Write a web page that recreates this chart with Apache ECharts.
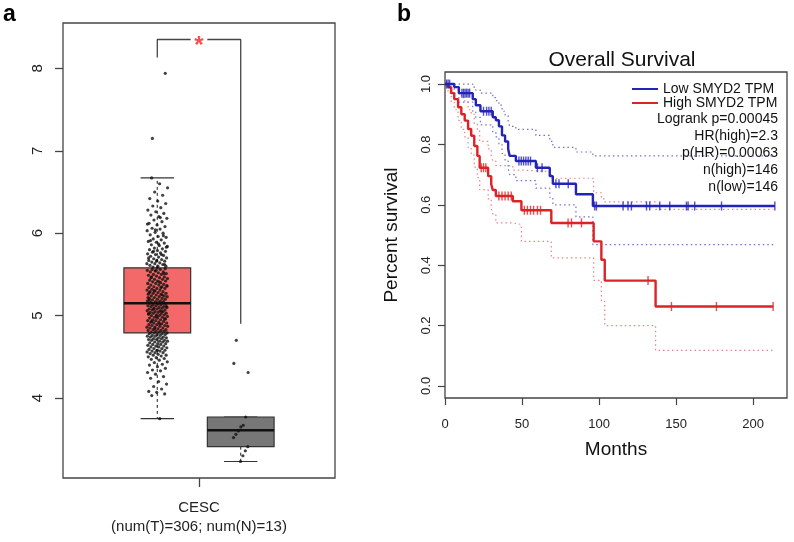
<!DOCTYPE html>
<html><head><meta charset="utf-8">
<script src="https://cdn.jsdelivr.net/npm/echarts@6/dist/echarts.min.js"></script>
<style>html,body{margin:0;padding:0;background:#fff}#c{width:794px;height:542px}</style>
</head><body><div id="c"></div>
<script>
// ---------- Panel a data ----------
const tumorValues = [
3.75,4.03,4.05,4.07,4.08,4.11,4.14,4.17,4.20,4.24,4.26,4.29,
4.31,4.33,4.34,4.36,4.38,4.40,4.41,4.43,4.44,4.46,4.47,4.48,4.49,4.50,
4.51,4.52,4.52,4.53,4.54,4.55,4.55,4.56,4.57,4.57,
4.58,4.58,4.59,4.60,4.60,4.61,4.62,4.62,4.63,4.63,
4.64,4.65,4.65,4.66,4.66,4.67,4.68,4.68,4.69,4.69,
4.70,4.70,4.71,4.71,4.72,4.72,4.73,4.73,4.74,4.74,
4.75,4.75,4.76,4.76,4.77,4.77,4.78,4.78,4.79,4.79,
4.80,4.80,4.81,4.81,4.82,4.82,4.83,4.83,4.84,4.85,
4.85,4.86,4.86,4.87,4.88,4.88,4.89,4.89,4.90,4.91,
4.91,4.92,4.92,4.93,4.94,4.94,4.95,4.95,4.96,4.97,
4.97,4.98,4.98,4.99,5.00,5.00,5.01,5.01,5.02,5.02,
5.03,5.03,5.04,5.04,5.05,5.05,5.06,5.06,5.07,5.07,
5.08,5.08,5.09,5.09,5.10,5.10,5.11,5.11,5.12,5.12,
5.13,5.13,5.14,5.14,5.15,5.15,4.84,4.87,4.90,4.93,
4.96,4.99,5.02,5.05,5.08,5.11,
5.16,5.16,5.17,5.17,5.18,5.18,5.19,5.20,5.20,5.21,
5.21,5.22,5.23,5.23,5.24,5.24,5.25,5.26,5.26,5.27,
5.27,5.28,5.29,5.29,5.30,5.31,5.31,5.32,5.33,5.33,
5.34,5.35,5.35,5.36,5.37,5.37,5.38,5.39,5.39,5.40,
5.41,5.42,5.42,5.43,5.44,5.44,5.45,5.46,5.47,5.47,
5.48,5.49,5.50,5.50,5.51,5.52,5.53,5.53,5.54,5.55,
5.56,5.56,5.57,5.58,5.19,5.25,5.30,5.36,5.41,5.46,
5.51,5.55,5.22,5.34,
5.59,5.60,5.60,5.61,5.62,5.63,5.63,5.64,5.65,5.66,
5.67,5.67,5.68,5.69,5.70,5.71,5.72,5.73,5.74,5.75,
5.76,5.77,5.78,5.79,5.80,5.81,5.82,5.84,5.85,5.86,
5.88,5.89,5.90,5.92,5.93,5.95,5.96,5.98,6.00,6.01,
6.03,6.05,6.06,6.08,6.10,6.12,6.14,6.16,6.18,6.20,
6.22,6.24,6.26,6.28,6.31,6.33,6.36,6.39,6.42,6.46,
6.50,6.55,6.60,6.67,5.62,5.66,5.70,5.74,5.78,5.83,
5.87,5.91,5.97,6.04,6.11,6.19,
7.15,7.94,4.58,5.28
];
const normalValues = [4.70,4.42,4.31,3.77,3.67,3.65,3.60,3.56,3.52,3.41,3.36,3.30,3.23];
// [lower whisker, Q1, median, Q3, upper whisker]
const tumorBox = [3.75, 4.79, 5.15, 5.58, 6.67];
const normalBox = [3.23, 3.41, 3.61, 3.77, 3.77];
const boxGroupPos = [-0.5, 0.5];
const groupLabel = 'CESC\n(num(T)=306; num(N)=13)';
const boxTicks = [4, 5, 6, 7, 8];
const bracketTop = 8.35, bracketLeftEnd = 8.13, bracketRightEnd = 4.90;

// ---------- Panel b data ----------
const lowTimes  = [0, 6, 9, 18, 20, 23, 31, 33, 35, 37, 39, 41, 42, 46, 59, 68, 70, 85, 96, 214.1];
const lowSurv   = [1, .99, .97, .95, .93, .91, .89, .88, .86, .83, .81, .785, .762, .745, .723, .695, .670, .635, .596, .596];
const lowUpper  = [1, 1, 1, .99, .98, .97, .955, .945, .93, .91, .895, .875, .86, .85, .83, .81, .79, .775, .762, .762];
const lowLower  = [1, .97, .94, .91, .89, .865, .84, .825, .80, .77, .745, .72, .70, .68, .655, .625, .60, .56, .468, .468];
const lowCensor = [1, 2, 3, 11, 12, 13, 14, 15, 16, 25, 27, 28.5, 30, 48, 49.5, 51, 52.5, 54, 55.5, 60, 63, 72, 74, 80,
                   97.2, 98.3, 115.6, 118.8, 121, 130.8, 132.9, 139.4, 145.9, 156.7, 157.8, 162.1, 179.5, 214.1];

const highTimes  = [0, 2, 4, 6, 8.5, 10.6, 12.8, 15, 17, 19, 21, 22.5, 28, 30, 31, 33, 44, 49.6, 69, 96.5, 101.5, 103.7, 136.7, 213];
const highSurv   = [1, .99, .97, .95, .923, .90, .879, .851, .829, .795, .762, .723, .695, .668, .649, .629, .612, .582, .540, .479, .418, .349, .263, .263];
const highUpper  = [1, 1, 1, .99, .97, .955, .94, .915, .90, .87, .845, .81, .785, .76, .745, .73, .715, .71, .688, .64, .62, .61, .585, .585];
const highLower  = [1, .97, .94, .915, .88, .85, .825, .79, .765, .725, .69, .65, .62, .59, .57, .54, .535, .479, .424, .35, .28, .20, .118, .118];
const highCensor = [23.5, 25, 26.5, 35, 37, 39, 41, 43, 51.5, 53.5, 55.5, 57.5, 60, 62, 79.9, 82.1, 88.6, 131.8, 147, 176.2, 213];

const survTicksX = [0, 50, 100, 150, 200];
const survTicksY = [0, 0.2, 0.4, 0.6, 0.8, 1.0];
const legendNames = ['Low SMYD2 TPM', 'High SMYD2 TPM'];
const statsLines = ['Logrank p=0.00045', 'HR(high)=2.3', 'p(HR)=0.00063', 'n(high)=146', 'n(low)=146'];

// ---------- helpers ----------
const FONT = 'Liberation Sans, Arial, sans-serif';
const zip = (xs, ys) => xs.map((x, i) => [x, ys[i]]);
const stepAt = (times, surv, t) => { let v = surv[0]; for (let i = 0; i < times.length; i++) { if (times[i] <= t) v = surv[i]; } return v; };
const jitter = (i, w) => ((((i + 1) * 0.6180339887) % 1) - 0.5) * w;

const chart = echarts.init(document.getElementById('c'), null, { renderer: 'canvas' });

const BLUE = '#2323b8', RED = '#dc2326';
const BLUE_CI = '#7070d0', RED_CI = '#e88585';

const tumorPts = tumorValues.map((v, i) => [boxGroupPos[0] + jitter(i, 0.25), v]);
const normalPts = normalValues.map((v, i) => [boxGroupPos[1] + jitter(i * 3 + 1, 0.2), v]);

const option = {
  animation: false,
  textStyle: { fontFamily: FONT },
  title: [
    { text: 'Overall Survival', left: 617, top: 45, textAlign: 'center',
      textStyle: { fontFamily: FONT, fontSize: 21, fontWeight: 'normal', color: '#111' } }
  ],
  legend: {
    data: legendNames.map(n => ({ name: n, icon: 'rect' })),
    orient: 'vertical', left: 632, top: 82, itemWidth: 26, itemHeight: 2, itemGap: 0,
    textStyle: { fontFamily: FONT, fontSize: 14, color: '#111', lineHeight: 14, padding: [0, 0, 0, 0] },
    padding: 0, selectedMode: false
  },
  graphic: [
    { type: 'text', left: 3, top: 3, style: { text: 'a', font: 'bold 23px ' + FONT, fill: '#000' } },
    { type: 'text', left: 397, top: 3, style: { text: 'b', font: 'bold 23px ' + FONT, fill: '#000' } },
    { type: 'text', x: 778, y: 111, style: { text: statsLines.join('\n'), font: '14px ' + FONT, fill: '#111',
      align: 'right', verticalAlign: 'top', lineHeight: 17 } }
  ],
  grid: [
    { left: 63, top: 23, width: 272, height: 455, show: true, borderColor: '#444', borderWidth: 1.3, backgroundColor: 'transparent' },
    { left: 445, top: 72, width: 342, height: 326, show: true, borderColor: '#444', borderWidth: 1.3, backgroundColor: 'transparent' }
  ],
  xAxis: [
    { gridIndex: 0, type: 'value', min: -1.63, max: 1.63, splitLine: { show: false },
      axisLine: { show: false, onZero: false },
      axisTick: { show: true, length: 9, customValues: [0], lineStyle: { color: '#444', width: 1.3 } },
      axisLabel: { customValues: [0], formatter: () => groupLabel, margin: 20, fontSize: 15, lineHeight: 19, color: '#222', fontFamily: FONT } },
    { gridIndex: 1, type: 'value', min: 0, max: 222, splitLine: { show: false },
      axisLine: { show: false, onZero: false },
      axisTick: { show: true, length: 7, customValues: survTicksX, lineStyle: { color: '#444', width: 1.2 } },
      axisLabel: { customValues: survTicksX, margin: 20, fontSize: 13, color: '#222', fontFamily: FONT },
      name: 'Months', nameLocation: 'middle', nameGap: 42,
      nameTextStyle: { fontSize: 19, color: '#111', fontFamily: FONT } }
  ],
  yAxis: [
    { gridIndex: 0, type: 'value', min: 3.03, max: 8.55, splitLine: { show: false },
      axisLine: { show: false, onZero: false },
      axisTick: { show: true, length: 8, customValues: boxTicks, lineStyle: { color: '#444', width: 1.3 } },
      axisLabel: { customValues: boxTicks, rotate: 90, margin: 18, fontSize: 15, color: '#222', fontFamily: FONT } },
    { gridIndex: 1, type: 'value', min: -0.04, max: 1.04, splitLine: { show: false },
      axisLine: { show: false, onZero: false },
      axisTick: { show: true, length: 7, customValues: survTicksY, lineStyle: { color: '#444', width: 1.2 } },
      axisLabel: { customValues: survTicksY, rotate: 90, margin: 12, fontSize: 13, color: '#222', fontFamily: FONT,
        formatter: v => v.toFixed(1) },
      name: 'Percent survival', nameLocation: 'middle', nameGap: 44, nameRotate: 90,
      nameTextStyle: { fontSize: 19, color: '#111', fontFamily: FONT } }
  ],
  series: [
    // boxes
    { type: 'custom', xAxisIndex: 0, yAxisIndex: 0, z: 1,
      data: [[boxGroupPos[0], ...tumorBox, 0], [boxGroupPos[1], ...normalBox, 1]],
      renderItem: (params, api) => {
        const x = api.value(0), lw = api.value(1), q1 = api.value(2), med = api.value(3), q3 = api.value(4), uw = api.value(5);
        const fill = api.value(6) === 0 ? '#f36868' : '#777777';
        const half = 0.4, cap = 0.2;
        const tl = api.coord([x - half, q3]), br = api.coord([x + half, q1]);
        const m1 = api.coord([x - half, med]), m2 = api.coord([x + half, med]);
        const c = api.coord([x, 5])[0];
        const yl = api.coord([x, lw])[1], yu = api.coord([x, uw])[1];
        const cl = api.coord([x - cap, 5])[0], cr = api.coord([x + cap, 5])[0];
        const st = { stroke: '#333', lineWidth: 1.2 };
        return { type: 'group', children: [
          { type: 'line', shape: { x1: c, y1: br[1], x2: c, y2: yl }, style: { stroke: '#333', lineWidth: 1.1, lineDash: [3, 3] } },
          { type: 'line', shape: { x1: c, y1: tl[1], x2: c, y2: yu }, style: { stroke: '#333', lineWidth: 1.1, lineDash: [3, 3] } },
          { type: 'line', shape: { x1: cl, y1: yl, x2: cr, y2: yl }, style: st },
          { type: 'line', shape: { x1: cl, y1: yu, x2: cr, y2: yu }, style: st },
          { type: 'rect', shape: { x: tl[0], y: tl[1], width: br[0] - tl[0], height: br[1] - tl[1] }, style: { fill, stroke: '#333', lineWidth: 1.2 } },
          { type: 'line', shape: { x1: m1[0], y1: m1[1], x2: m2[0], y2: m2[1] }, style: { stroke: '#111', lineWidth: 2.6 } }
        ] };
      } },
    { type: 'scatter', xAxisIndex: 0, yAxisIndex: 0, z: 3, symbolSize: 3.2, itemStyle: { color: '#111' }, data: tumorPts, silent: true },
    { type: 'scatter', xAxisIndex: 0, yAxisIndex: 0, z: 3, symbolSize: 3.2, itemStyle: { color: '#111' }, data: normalPts, silent: true },
    // significance bracket
    { type: 'line', xAxisIndex: 0, yAxisIndex: 0, symbol: 'none', lineStyle: { color: '#444', width: 1.3 },
      data: [[boxGroupPos[0], bracketLeftEnd], [boxGroupPos[0], bracketTop], [-0.1, bracketTop]] },
    { type: 'line', xAxisIndex: 0, yAxisIndex: 0, symbol: 'none', lineStyle: { color: '#444', width: 1.3 },
      data: [[0.1, bracketTop], [boxGroupPos[1], bracketTop], [boxGroupPos[1], bracketRightEnd]] },
    { type: 'scatter', xAxisIndex: 0, yAxisIndex: 0, symbolSize: 1, itemStyle: { color: 'rgba(0,0,0,0)' },
      data: [[0, bracketTop]],
      label: { show: true, position: 'inside', formatter: '*', color: '#ff2020', fontSize: 24, fontWeight: 'bold', offset: [0, 7], fontFamily: FONT } },

    // survival CIs
    { name: 'lowU', type: 'line', xAxisIndex: 1, yAxisIndex: 1, step: 'end', symbol: 'none', lineStyle: { color: BLUE_CI, width: 1.2, type: [1.5, 3] }, data: zip(lowTimes, lowUpper) },
    { name: 'lowL', type: 'line', xAxisIndex: 1, yAxisIndex: 1, step: 'end', symbol: 'none', lineStyle: { color: BLUE_CI, width: 1.2, type: [1.5, 3] }, data: zip(lowTimes, lowLower) },
    { name: 'highU', type: 'line', xAxisIndex: 1, yAxisIndex: 1, step: 'end', symbol: 'none', lineStyle: { color: RED_CI, width: 1.2, type: [1.5, 3] }, data: zip(highTimes, highUpper) },
    { name: 'highL', type: 'line', xAxisIndex: 1, yAxisIndex: 1, step: 'end', symbol: 'none', lineStyle: { color: RED_CI, width: 1.2, type: [1.5, 3] }, data: zip(highTimes, highLower) },
    // survival curves
    { name: legendNames[1], type: 'line', xAxisIndex: 1, yAxisIndex: 1, step: 'end', symbol: 'none', z: 4, color: RED, lineStyle: { color: RED, width: 2.4 }, data: zip(highTimes, highSurv) },
    { name: legendNames[0], type: 'line', xAxisIndex: 1, yAxisIndex: 1, step: 'end', symbol: 'none', z: 5, color: BLUE, lineStyle: { color: BLUE, width: 2.4 }, data: zip(lowTimes, lowSurv) },
    { name: 'highC', type: 'scatter', xAxisIndex: 1, yAxisIndex: 1, z: 4, symbol: 'rect', symbolSize: [1.4, 9], itemStyle: { color: RED },
      data: highCensor.map(t => [t, stepAt(highTimes, highSurv, t)]) },
    { name: 'lowC', type: 'scatter', xAxisIndex: 1, yAxisIndex: 1, z: 5, symbol: 'rect', symbolSize: [1.4, 9], itemStyle: { color: BLUE },
      data: lowCensor.map(t => [t, stepAt(lowTimes, lowSurv, t)]) }
  ]
};
chart.setOption(option);
</script></body></html>
